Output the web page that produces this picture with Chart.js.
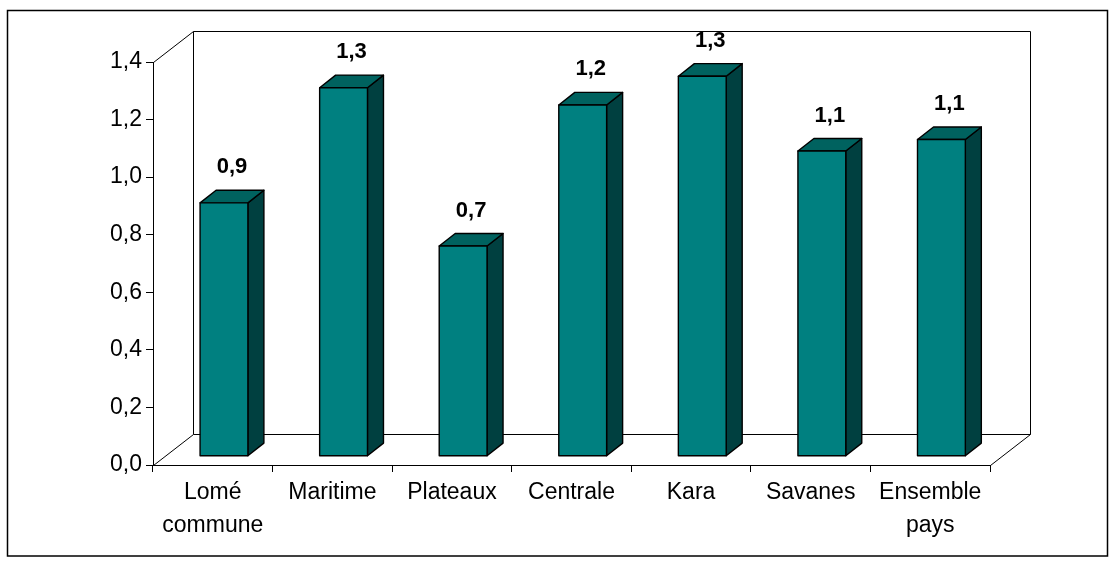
<!DOCTYPE html>
<html lang="fr">
<head>
<meta charset="utf-8">
<script src="https://cdn.jsdelivr.net/npm/chart.js@4.4.1/dist/chart.umd.min.js"></script>
<style>
  html, body { margin: 0; padding: 0; background: #fff; }
  canvas { display: block; }
</style>
</head>
<body>
<canvas id="chart" width="1115" height="566"></canvas>
<script>
// Categories (regions) and their values
const categories = [['Lomé', 'commune'], 'Maritime', 'Plateaux', 'Centrale', 'Kara', 'Savanes', ['Ensemble', 'pays']];
const values = [0.88, 1.28, 0.73, 1.22, 1.32, 1.06, 1.10];

// Value axis range
const yMin = 0;
const yMax = 1.4;
const yStep = 0.2;

const fmt = v => Number(v).toFixed(1).replace('.', ',');

const FONT = "'Liberation Sans', Arial, Helvetica, sans-serif";
const DEPTH = { x: 40, y: -31.5 };        // depth of the 3D box (walls/floor)
const BAR_FRONT = 0.28, BAR_BACK = 0.68;  // bar position inside the depth
const COLORS = { front: '#008080', top: '#00625f', side: '#004040', edge: '#000000' };

// Outer frame, back wall, floor and side wall outlines
const walls = {
  id: 'walls',
  beforeDraw(chart) {
    const ctx = chart.ctx;
    ctx.save();
    ctx.strokeStyle = '#000';
    ctx.lineWidth = 1.5;
    ctx.strokeRect(7.5, 10.5, 1100, 545.5);
    ctx.restore();
  },
  beforeDatasetsDraw(chart) {
    const { ctx, chartArea: a, scales: { y } } = chart;
    const x0 = Math.round(a.left) + 0.5, x1 = Math.round(a.right) + 0.5;
    const yb = Math.round(y.getPixelForValue(yMin)) + 0.5;
    const yt = Math.round(y.getPixelForValue(yMax)) + 0.5;
    const dx = DEPTH.x, dy = Math.round(DEPTH.y);
    ctx.save();
    ctx.strokeStyle = '#000';
    ctx.lineWidth = 1;
    ctx.beginPath();
    ctx.rect(x0 + dx, yt + dy, x1 - x0, yb - yt);
    ctx.moveTo(x0, yb); ctx.lineTo(x0 + dx, yb + dy);
    ctx.moveTo(x1, yb); ctx.lineTo(x1 + dx, yb + dy);
    ctx.moveTo(x0, yt); ctx.lineTo(x0 + dx, yt + dy);
    ctx.stroke();
    ctx.restore();
  }
};

// 3D columns drawn from the bar elements' positions, with value labels
const bars3d = {
  id: 'bars3d',
  afterDatasetsDraw(chart) {
    const ctx = chart.ctx;
    const meta = chart.getDatasetMeta(0);
    const data = chart.data.datasets[0].data;
    const fx = DEPTH.x * BAR_FRONT, fy = DEPTH.y * BAR_FRONT;
    const bx = DEPTH.x * (BAR_BACK - BAR_FRONT), by = DEPTH.y * (BAR_BACK - BAR_FRONT);
    ctx.save();
    ctx.lineJoin = 'round';
    ctx.lineWidth = 1.4;
    ctx.strokeStyle = COLORS.edge;
    meta.data.forEach((el, i) => {
      const { x, y, base, width } = el.getProps(['x', 'y', 'base', 'width'], true);
      const L = x - width / 2 + fx, R = x + width / 2 + fx;
      const T = y + fy, B = base + fy;

      const poly = (pts, fill) => {
        ctx.beginPath();
        ctx.moveTo(pts[0][0], pts[0][1]);
        for (let k = 1; k < pts.length; k++) ctx.lineTo(pts[k][0], pts[k][1]);
        ctx.closePath();
        ctx.fillStyle = fill;
        ctx.fill();
        ctx.stroke();
      };
      poly([[R, T], [R + bx, T + by], [R + bx, B + by], [R, B]], COLORS.side);
      poly([[L, T], [L + bx, T + by], [R + bx, T + by], [R, T]], COLORS.top);
      poly([[L, T], [R, T], [R, B], [L, B]], COLORS.front);

      ctx.fillStyle = '#000';
      ctx.font = `bold 22px ${FONT}`;
      ctx.textAlign = 'center';
      ctx.textBaseline = 'middle';
      ctx.fillText(fmt(data[i]), x + fx + bx / 2, T + by - 23);
    });
    ctx.restore();
  }
};

new Chart(document.getElementById('chart'), {
  type: 'bar',
  data: {
    labels: categories,
    datasets: [{
      data: values,
      backgroundColor: 'rgba(0,0,0,0)',
      borderWidth: 0,
      categoryPercentage: 1,
      barPercentage: 0.4
    }]
  },
  plugins: [walls, bars3d],
  options: {
    responsive: false,
    animation: false,
    events: [],
    devicePixelRatio: 1,
    layout: { padding: { left: 0, top: 62, right: 125, bottom: 0 } },
    plugins: { legend: { display: false }, tooltip: { enabled: false } },
    scales: {
      x: {
        type: 'category',
        grid: { display: true, drawOnChartArea: false, drawTicks: true, tickLength: 7, color: '#000', offset: true },
        border: { display: true, color: '#000', width: 1 },
        ticks: { color: '#000', font: { family: FONT, size: 23, lineHeight: 1.43 }, padding: 4, maxRotation: 0, autoSkip: false },
        afterFit(s) { s.height = 101; }
      },
      y: {
        min: yMin,
        max: yMax,
        grid: { drawOnChartArea: false, drawTicks: true, tickLength: 7, color: '#000' },
        border: { display: true, color: '#000', width: 1 },
        ticks: { stepSize: yStep, callback: v => fmt(v), color: '#000', font: { family: FONT, size: 23 }, padding: 4 },
        afterFit(s) { s.width = 153; }
      }
    }
  }
});
</script>
</body>
</html>
